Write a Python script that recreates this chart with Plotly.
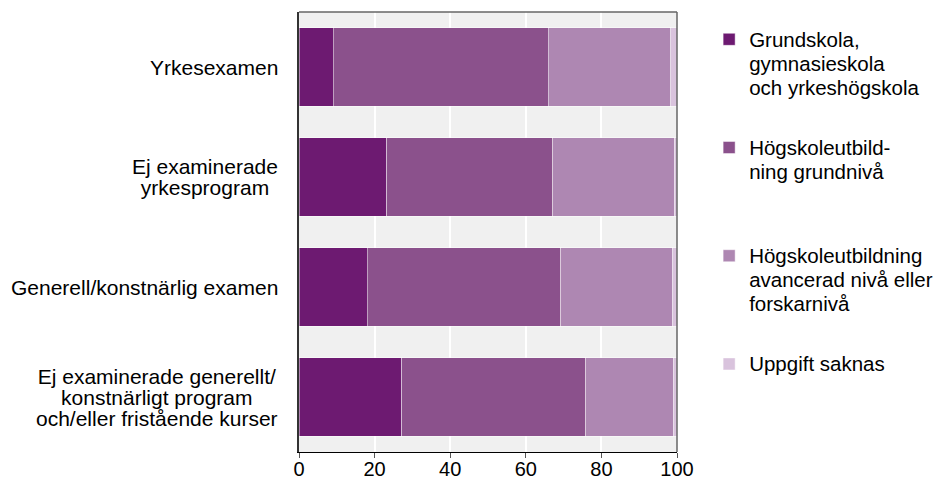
import plotly.graph_objects as go

categories = [
    "Yrkesexamen",
    "Ej examinerade<br>yrkesprogram",
    "Generell/konstnärlig examen",
    "Ej examinerade generellt/<br>konstnärligt program<br>och/eller fristående kurser",
]
series_names = [
    "Grundskola,<br>gymnasieskola<br>och yrkeshögskola",
    "Högskoleutbild-<br>ning grundnivå",
    "Högskoleutbildning<br>avancerad nivå eller<br>forskarnivå",
    "Uppgift saknas",
]
grund = [9.1, 23.2, 18.0, 27.2]
hogsk_grund = [56.9, 43.9, 51.2, 48.6]
hogsk_avanc = [32.3, 32.2, 29.6, 23.2]
saknas = [1.7, 0.7, 1.2, 1.0]
values = [grund, hogsk_grund, hogsk_avanc, saknas]
colors = ["#6d1a71", "#8b518c", "#ae87b2", "#d9c3dd"]
x_ticks = [0, 20, 40, 60, 80, 100]

FONT = "Liberation Sans, Arial, sans-serif"
PAD = 4  # legend entries padded to the same number of lines


def sized(label, px):
    return "<br>".join(
        '<span style="font-size:%spx">%s</span>' % (px, line) for line in label.split("<br>")
    )


def pad_label(label):
    n = label.count("<br>") + 1
    return sized(label + "<br>\u00a0" * (PAD - n), 20.5)


fig = go.Figure()
for i, (name, vals, col) in enumerate(zip(series_names, values, colors)):
    fig.add_trace(go.Bar(
        y=categories, x=vals, name=pad_label(name), orientation="h",
        legendgroup="g%d" % i,
        marker=dict(color=col, line=dict(color="rgba(255,255,255,0.45)", width=1)),
        hoverinfo="x+y",
    ))

for cat in categories:
    fig.add_annotation(
        x=0, y=cat, xref="x", yref="y", text=sized(cat, 21), showarrow=False,
        xanchor="right", yanchor="middle", align="center", xshift=-19,
        font=dict(family=FONT, size=16.2, color="#000000"),
    )

# page body has an 8px margin, so the figure is drawn 8px smaller and offset
fig.update_layout(
    width=934, height=476,
    margin=dict(l=291, r=265, t=4, b=32, autoexpand=False),
    barmode="stack", bargap=0.29,
    plot_bgcolor="#f0f0f0", paper_bgcolor="#ffffff",
    font=dict(family=FONT, size=20, color="#000000"),
    showlegend=True,
    legend=dict(
        x=1.085, xanchor="left", y=0.98, yanchor="top",
        valign="top", traceorder="grouped",
        font=dict(family=FONT, size=18.5, color="#000000"),
        itemclick=False, tracegroupgap=9,
    ),
    xaxis=dict(
        range=[0, 100], tickvals=x_ticks, ticktext=[str(t) for t in x_ticks],
        showgrid=True, gridcolor="#ffffff", gridwidth=1.5,
        showline=True, linecolor="#000000", linewidth=1,
        ticks="outside", ticklen=5, tickcolor="#555555",
        ticklabelstandoff=-6,
        zeroline=False, fixedrange=True,
        tickfont=dict(family=FONT, size=20, color="#000000"),
    ),
    yaxis=dict(
        categoryorder="array", categoryarray=categories[::-1],
        showticklabels=False, showgrid=False, zeroline=False,
        showline=True, linecolor="#333333", linewidth=1.5,
        ticks="", fixedrange=True,
    ),
    shapes=[
        dict(type="line", xref="paper", yref="paper", x0=0, x1=1, y0=1, y1=1,
             line=dict(color="#666666", width=1.5)),
        dict(type="line", xref="paper", yref="paper", x0=1, x1=1, y0=0, y1=1,
             line=dict(color="#666666", width=1.5)),
    ],
)

fig.write_html("out.html")
